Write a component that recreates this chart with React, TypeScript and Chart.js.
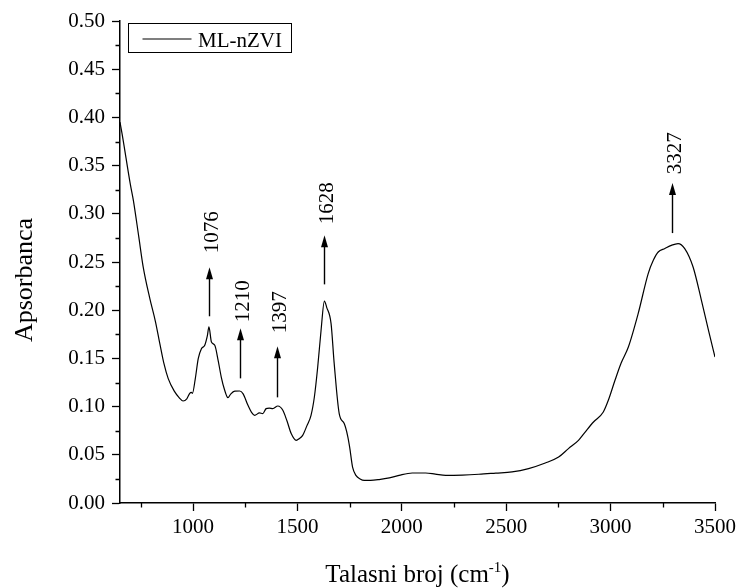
import React, { useEffect, useRef } from "react";
import { Chart, registerables } from "chart.js";

Chart.register(...registerables);

const SERIES_NAME = "ML-nZVI";
const WAVENUMBER = [
  650, 660, 700, 714, 740, 761, 793, 820, 841, 860, 881, 910, 936, 952, 970, 984, 992, 997,
  1010, 1025, 1040, 1056, 1068, 1076, 1088, 1104, 1120, 1135, 1150, 1167, 1180, 1200, 1223,
  1239, 1263, 1280, 1295, 1318, 1334, 1350, 1365, 1382, 1406, 1430, 1450, 1470, 1494, 1510,
  1525, 1545, 1565, 1581, 1597, 1613, 1629, 1640, 1661, 1676, 1700, 1724, 1740, 1750, 1764,
  1780, 1800, 1820, 1850, 1891, 1940, 1987, 2050, 2114, 2160, 2210, 2290, 2369, 2450, 2528,
  2607, 2687, 2751, 2798, 2846, 2878, 2918, 2965, 2989, 3021, 3050, 3085, 3132, 3180, 3205,
  3228, 3260, 3291, 3323, 3355, 3395, 3435, 3470, 3500,
];
const ABSORBANCE = [
  0.395, 0.383, 0.33, 0.314, 0.276, 0.245, 0.212, 0.188, 0.165, 0.145, 0.129, 0.116, 0.1086,
  0.1058, 0.108, 0.1138, 0.1148, 0.1138, 0.128, 0.15, 0.16, 0.1636, 0.173, 0.1826, 0.167,
  0.1636, 0.148, 0.1307, 0.118, 0.1093, 0.113, 0.116, 0.1162, 0.1135, 0.1013, 0.094, 0.091,
  0.0934, 0.0927, 0.0979, 0.0985, 0.0979, 0.1006, 0.0962, 0.085, 0.072, 0.065, 0.067, 0.0702,
  0.08, 0.091, 0.11, 0.1411, 0.179, 0.2095, 0.203, 0.1861, 0.1446, 0.0927, 0.0824, 0.07, 0.058,
  0.0373, 0.0287, 0.025, 0.0235, 0.0235, 0.0243, 0.026, 0.0287, 0.0311, 0.0311, 0.03, 0.0287,
  0.029, 0.0298, 0.031, 0.0322, 0.0357, 0.0415, 0.0477, 0.0564, 0.065, 0.0736, 0.084, 0.0944,
  0.1065, 0.1273, 0.145, 0.1618, 0.1965, 0.238, 0.252, 0.2604, 0.264, 0.2673, 0.2691, 0.2639,
  0.2448, 0.2103, 0.178, 0.1514,
];

const X_MAJOR = [1000, 1500, 2000, 2500, 3000, 3500];
const X_MINOR = [750, 1250, 1750, 2250, 2750, 3250];
const Y_MAJOR = [0, 0.05, 0.1, 0.15, 0.2, 0.25, 0.3, 0.35, 0.4, 0.45, 0.5];
const Y_MINOR = [0.025, 0.075, 0.125, 0.175, 0.225, 0.275, 0.325, 0.375, 0.425, 0.475];

const ANNOT_LABELS = ["1076", "1210", "1397", "1628", "3327"];
const ANNOT_X = [1075, 1223, 1403, 1629, 3296];
const ANNOT_TIP = [0.2445, 0.1812, 0.1625, 0.2777, 0.332];
const ANNOT_BASE = [0.1937, 0.1293, 0.1096, 0.2268, 0.28];
const ANNOT_TEXT_Y = [0.259, 0.1874, 0.176, 0.2891, 0.3409];

const X_TITLE = "Talasni broj (cm";
const X_TITLE_SUP = "-1";
const X_TITLE_END = ")";
const Y_TITLE = "Apsorbanca";

const FONT = "'Liberation Serif', 'Times New Roman', serif";

const overlay = {
  id: "overlay",
  afterDraw(chart: any) {
    const ctx = chart.ctx;
    const xs = chart.scales.x;
    const ys = chart.scales.y;
    const area = chart.chartArea;
    ctx.save();
    ctx.strokeStyle = "#000";
    ctx.fillStyle = "#000";
    // minor ticks
    ctx.lineWidth = 1.3;
    ctx.beginPath();
    X_MINOR.forEach((v) => {
      const px = Math.round(xs.getPixelForValue(v)) + 0.5;
      ctx.moveTo(px, area.bottom);
      ctx.lineTo(px, area.bottom + 4.5);
    });
    Y_MINOR.forEach((v) => {
      const py = Math.round(ys.getPixelForValue(v)) + 0.5;
      ctx.moveTo(area.left, py);
      ctx.lineTo(area.left - 4.5, py);
    });
    ctx.stroke();

    // arrows & labels
    ANNOT_LABELS.forEach((lab, i) => {
      const x = Math.round(xs.getPixelForValue(ANNOT_X[i])) + 0.5;
      const yTip = ys.getPixelForValue(ANNOT_TIP[i]);
      const yBase = ys.getPixelForValue(ANNOT_BASE[i]);
      ctx.lineWidth = 1.4;
      ctx.beginPath();
      ctx.moveTo(x, yBase);
      ctx.lineTo(x, yTip + 9);
      ctx.stroke();
      ctx.beginPath();
      ctx.moveTo(x, yTip);
      ctx.lineTo(x - 3.5, yTip + 12);
      ctx.lineTo(x + 3.5, yTip + 12);
      ctx.closePath();
      ctx.fill();
      const ty = ys.getPixelForValue(ANNOT_TEXT_Y[i]);
      ctx.save();
      ctx.translate(x + 8.5, ty);
      ctx.rotate(-Math.PI / 2);
      ctx.font = `21px ${FONT}`;
      ctx.textAlign = "left";
      ctx.textBaseline = "alphabetic";
      ctx.fillText(lab, 0, 0);
      ctx.restore();
    });

    // legend
    ctx.lineWidth = 1;
    ctx.strokeRect(128.5, 23.5, 163, 29);
    ctx.lineWidth = 1.2;
    ctx.beginPath();
    ctx.moveTo(142.5, 39);
    ctx.lineTo(191.5, 39);
    ctx.stroke();
    ctx.font = `21px ${FONT}`;
    ctx.textAlign = "left";
    ctx.textBaseline = "alphabetic";
    ctx.fillText(SERIES_NAME, 198, 46.5);

    // x title with superscript
    const big = `25px ${FONT}`;
    const small = `15px ${FONT}`;
    ctx.font = big;
    const w1 = ctx.measureText(X_TITLE).width;
    const w3 = ctx.measureText(X_TITLE_END).width;
    ctx.font = small;
    const w2 = ctx.measureText(X_TITLE_SUP).width;
    const total = w1 + w2 + w3;
    const cx = (area.left + area.right) / 2;
    let sx = cx - total / 2;
    const base = 582;
    ctx.font = big;
    ctx.fillText(X_TITLE, sx, base);
    sx += w1;
    ctx.font = small;
    ctx.fillText(X_TITLE_SUP, sx, base - 10);
    sx += w2;
    ctx.font = big;
    ctx.fillText(X_TITLE_END, sx, base);

    // y title
    ctx.save();
    ctx.translate(31.5, 280);
    ctx.rotate(-Math.PI / 2);
    ctx.font = `26px ${FONT}`;
    ctx.textAlign = "center";
    ctx.textBaseline = "alphabetic";
    ctx.fillText(Y_TITLE, 0, 0);
    ctx.restore();

    ctx.restore();
  },
};

export default function App() {
  const ref = useRef<HTMLCanvasElement | null>(null);
  useEffect(() => {
    document.body.style.margin = "0";
    const canvas = ref.current;
    if (!canvas) return;
    const chart = new Chart(canvas, {
      type: "line",
      data: {
        datasets: [
          {
            label: SERIES_NAME,
            data: WAVENUMBER.map((x, i) => ({ x, y: ABSORBANCE[i] })),
            borderColor: "#000",
            borderWidth: 1.2,
            pointRadius: 0,
            fill: false,
            cubicInterpolationMode: "monotone",
          },
        ],
      },
      options: {
        responsive: false,
        animation: false,
        devicePixelRatio: 1,
        layout: { padding: { top: 21, right: 23, left: 0, bottom: 0 } },
        plugins: { legend: { display: false }, tooltip: { enabled: false } },
        scales: {
          x: {
            type: "linear",
            min: 650,
            max: 3500,
            afterBuildTicks: (axis: any) => {
              axis.ticks = X_MAJOR.map((v) => ({ value: v }));
            },
            afterFit: (s: any) => {
              s.height = 85;
            },
            ticks: {
              autoSkip: false,
              maxRotation: 0,
              color: "#000",
              padding: 4,
              font: { family: FONT, size: 21 },
              callback: (v: any) => String(v),
            },
            grid: {
              drawOnChartArea: false,
              drawTicks: true,
              tickLength: 8,
              tickColor: "#000",
              tickWidth: 1.3,
            },
            border: { display: true, color: "#000", width: 1.5 },
          },
          y: {
            type: "linear",
            min: 0,
            max: 0.5,
            afterBuildTicks: (axis: any) => {
              axis.ticks = Y_MAJOR.map((v) => ({ value: v }));
            },
            afterFit: (s: any) => {
              s.width = 120;
            },
            ticks: {
              autoSkip: false,
              color: "#000",
              padding: 7,
              font: { family: FONT, size: 21 },
              callback: (v: any) => Number(v).toFixed(2),
            },
            grid: {
              drawOnChartArea: false,
              drawTicks: true,
              tickLength: 8,
              tickColor: "#000",
              tickWidth: 1.3,
            },
            border: { display: true, color: "#000", width: 1.5 },
          },
        },
      },
      plugins: [overlay],
    } as any);
    return () => chart.destroy();
  }, []);
  return (
    <div style={{ width: 740, height: 588, background: "#fff" }}>
      <canvas ref={ref} width={740} height={588} style={{ display: "block" }} />
    </div>
  );
}
